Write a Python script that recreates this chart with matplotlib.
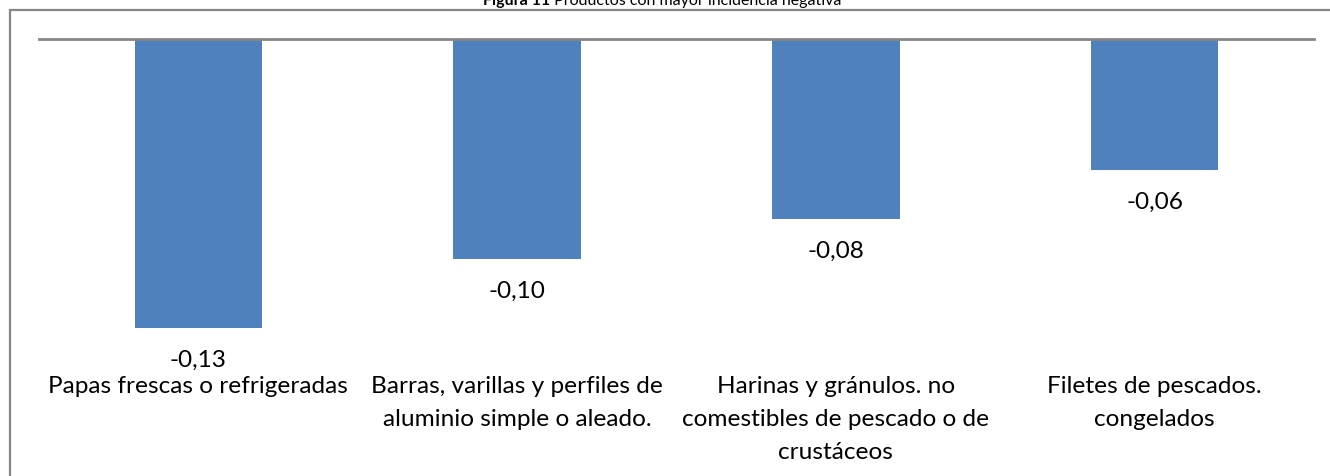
import matplotlib
matplotlib.use("Agg")
import matplotlib.pyplot as plt
from matplotlib.patches import Rectangle
from matplotlib import transforms

categories = [
    "Papas frescas o refrigeradas",
    "Barras, varillas y perfiles de\naluminio simple o aleado.",
    "Harinas y gránulos. no\ncomestibles de pescado o de\ncrustáceos",
    "Filetes de pescados.\ncongelados",
]
values = [-0.130, -0.099, -0.081, -0.059]
value_labels = ["-0,13", "-0,10", "-0,08", "-0,06"]
title_bold = "Figura 11"
title_rest = " Productos con mayor incidencia negativa"

W, H = 1330, 476
fig = plt.figure(figsize=(W / 100, H / 100), dpi=100)
plt.rcParams['font.family'] = ['Lato', 'DejaVu Sans']

def fx(px):
    return px / W

def fy(py):
    return 1 - py / H

# outer chart border (extends beyond right/bottom edge)
fig.patches.append(Rectangle((fx(10), fy(H + 20)), fx(W + 40), fy(10) - fy(H + 20),
                             transform=fig.transFigure, fill=False,
                             edgecolor='#868686', lw=1.6, zorder=0))

ax = fig.add_axes([fx(39), fy(328), fx(1314) - fx(39), fy(39) - fy(328)])
ax.set_xlim(-0.5, len(values) - 0.5)
ax.set_ylim(-0.13, 0)
ax.axis('off')
ax.set_facecolor('none')

x = list(range(len(values)))
ax.bar(x, values, width=0.4, color='#4F81BD', zorder=2)
ax.axhline(0, color='#868686', lw=2.0, zorder=3, clip_on=False)

FS = 17.6
for xi, v, lab in zip(x, values, value_labels):
    ax.annotate(lab, (xi, v), xytext=(0, -39), textcoords='offset pixels',
                ha='center', va='baseline', fontsize=FS, color='#000000')

trans = transforms.blended_transform_factory(ax.transData, fig.transFigure)
for xi, c in zip(x, categories):
    for k, line in enumerate(c.split("\n")):
        ax.text(xi, fy(393 + 33 * k), line, transform=trans, ha='center',
                va='baseline', fontsize=FS, color='#000000')

# title (clipped at the top edge, as in the reference)
fig.canvas.draw()
r = fig.canvas.get_renderer()
t1 = fig.text(0, fy(5), title_bold, fontsize=11.5, fontweight='bold', va='baseline', ha='left')
t2 = fig.text(0, fy(5), title_rest, fontsize=11.5, va='baseline', ha='left')
w1 = t1.get_window_extent(r).width
w2 = t2.get_window_extent(r).width
start = 662 - (w1 + w2) / 2
t1.set_x(fx(start))
t2.set_x(fx(start + w1))

fig.savefig("out.png", dpi=100)
